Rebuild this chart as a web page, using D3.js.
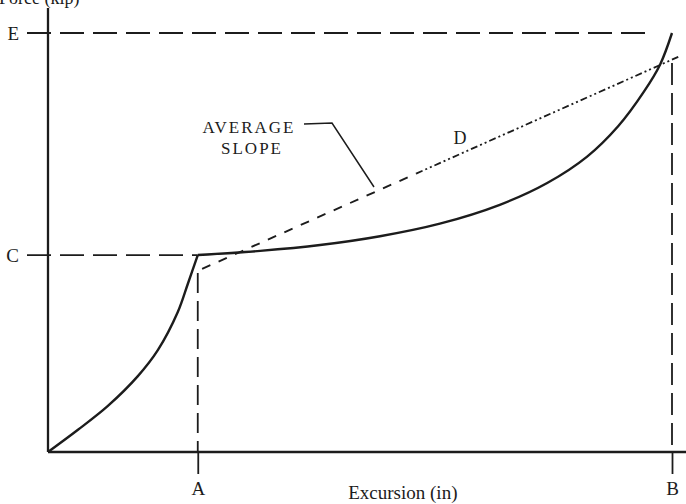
<!DOCTYPE html>
<html>
<head>
<meta charset="utf-8">
<script src="https://cdn.jsdelivr.net/npm/d3@7"></script>
<style>
  body { margin: 0; background: #fff; }
  svg { display: block; font-family: "Liberation Serif", "DejaVu Serif", serif; }
</style>
</head>
<body>
<script>
var width = 686, height = 504;
var INK = '#1c1c1c';

// key points on the axes (arbitrary units)
var xMarks = [ { label: 'A', value: 2.4 }, { label: 'B', value: 10 } ];
var yMarks = [ { label: 'C', value: 4.7 }, { label: 'E', value: 10 } ];

// force-excursion curve
var loadingCurve = [
  [0, 0], [0.48, 0.53], [0.96, 1.10], [1.44, 1.81], [1.76, 2.43], [2.08, 3.34], [2.24, 4.01], [2.4, 4.7]
];
var stiffeningCurve = [
  [2.4, 4.7], [3.40, 4.80], [4.36, 4.94], [5.32, 5.15], [6.28, 5.45], [7.24, 5.90],
  [8.00, 6.42], [8.64, 7.05], [9.14, 7.78], [9.55, 8.60], [9.81, 9.25], [10, 10]
];
// average slope line, dashed up to `avgSplit`, dash-dot after
var avgSlope = [ [2.47, 4.37], [10.1, 9.43] ];
var avgSplit = 5.9;

var x = d3.scaleLinear().domain([0, 10]).range([48, 672]);
var y = d3.scaleLinear().domain([0, 10]).range([452, 33]);

var svg = d3.select('body').append('svg')
  .attr('width', width)
  .attr('height', height);

var line = d3.line()
  .x(function(d){ return x(d[0]); })
  .y(function(d){ return y(d[1]); });

// axis title, cut by the top edge as in the scan
svg.append('text')
  .attr('x', -1).attr('y', 4)
  .attr('font-size', 18)
  .attr('fill', INK)
  .text('Force (kip)');

// dashed guide lines
yMarks.forEach(function(m){
  var xEnd = m.label === 'E' ? 652 : x(xMarks[0].value);
  svg.append('line')
    .attr('x1', 27).attr('x2', xEnd)
    .attr('y1', y(m.value)).attr('y2', y(m.value))
    .attr('stroke', INK).attr('stroke-width', 1.8)
    .attr('stroke-dasharray', '24,9');
});
svg.append('line')
  .attr('x1', x(xMarks[0].value)).attr('x2', x(xMarks[0].value))
  .attr('y1', y(yMarks[0].value) + 18).attr('y2', y(0))
  .attr('stroke', INK).attr('stroke-width', 1.8)
  .attr('stroke-dasharray', '20,8');
svg.append('line')
  .attr('x1', x(xMarks[1].value)).attr('x2', x(xMarks[1].value))
  .attr('y1', y(yMarks[1].value) + 30).attr('y2', y(0))
  .attr('stroke', INK).attr('stroke-width', 1.8)
  .attr('stroke-dasharray', '22,8');

// axes
var xAxis = d3.axisBottom(x)
  .tickValues(xMarks.map(function(m){ return m.value; }))
  .tickFormat(function(d, i){ return xMarks[i].label; })
  .tickSize(22).tickPadding(8);
var gx = svg.append('g').attr('transform', 'translate(0,' + y(0) + ')').call(xAxis);
gx.select('.domain').remove();
gx.append('line').attr('x1', x(0)).attr('x2', width).attr('stroke', INK).attr('stroke-width', 2.3);
gx.selectAll('.tick line').attr('stroke', INK).attr('stroke-width', 1.8);
gx.selectAll('.tick text').attr('fill', INK).attr('font-size', 19)
  .attr('font-family', '"Liberation Serif", serif');

var yAxis = d3.axisLeft(y)
  .tickValues(yMarks.map(function(m){ return m.value; }))
  .tickFormat(function(d, i){ return yMarks[i].label; })
  .tickSize(0).tickPadding(29);
var gy = svg.append('g').attr('transform', 'translate(' + x(0) + ',0)').call(yAxis);
gy.select('.domain').remove();
gy.append('line').attr('y1', 8).attr('y2', y(0)).attr('stroke', INK).attr('stroke-width', 2.3);
gy.selectAll('.tick text').attr('fill', INK).attr('font-size', 19)
  .attr('font-family', '"Liberation Serif", serif');

svg.append('text')
  .attr('x', (x(xMarks[0].value) + x(xMarks[1].value)) / 2 - 32)
  .attr('y', y(0) + 47)
  .attr('text-anchor', 'middle')
  .attr('font-size', 19).attr('fill', INK)
  .text('Excursion (in)');

// average slope
var slope = (avgSlope[1][1] - avgSlope[0][1]) / (avgSlope[1][0] - avgSlope[0][0]);
var splitPt = [avgSplit, avgSlope[0][1] + slope * (avgSplit - avgSlope[0][0])];
svg.append('path')
  .datum([avgSlope[0], splitPt])
  .attr('d', line)
  .attr('fill', 'none').attr('stroke', INK).attr('stroke-width', 1.9)
  .attr('stroke-dasharray', '9,9');
svg.append('path')
  .datum([splitPt, avgSlope[1]])
  .attr('d', line)
  .attr('fill', 'none').attr('stroke', INK).attr('stroke-width', 1.8)
  .attr('stroke-dasharray', '7,3,2,3,2,3');

// main curve
var smooth = d3.line()
  .x(function(d){ return x(d[0]); })
  .y(function(d){ return y(d[1]); })
  .curve(d3.curveCatmullRom.alpha(0.5));
[loadingCurve, stiffeningCurve].forEach(function(c){
  svg.append('path')
    .datum(c)
    .attr('d', smooth)
    .attr('fill', 'none').attr('stroke', INK).attr('stroke-width', 2.4)
    .attr('stroke-linejoin', 'round');
});

// annotations
svg.append('text')
  .attr('x', 460).attr('y', 144)
  .attr('text-anchor', 'middle')
  .attr('font-size', 18).attr('fill', INK)
  .text('D');

var label = svg.append('text')
  .attr('text-anchor', 'middle')
  .attr('font-size', 17).attr('letter-spacing', 2).attr('fill', INK);
label.append('tspan').attr('x', 249).attr('y', 133).text('AVERAGE');
label.append('tspan').attr('x', 252).attr('y', 154).text('SLOPE');

svg.append('path')
  .attr('d', 'M304,124L332,123L374,187')
  .attr('fill', 'none').attr('stroke', INK).attr('stroke-width', 1.5);
</script>
</body>
</html>
